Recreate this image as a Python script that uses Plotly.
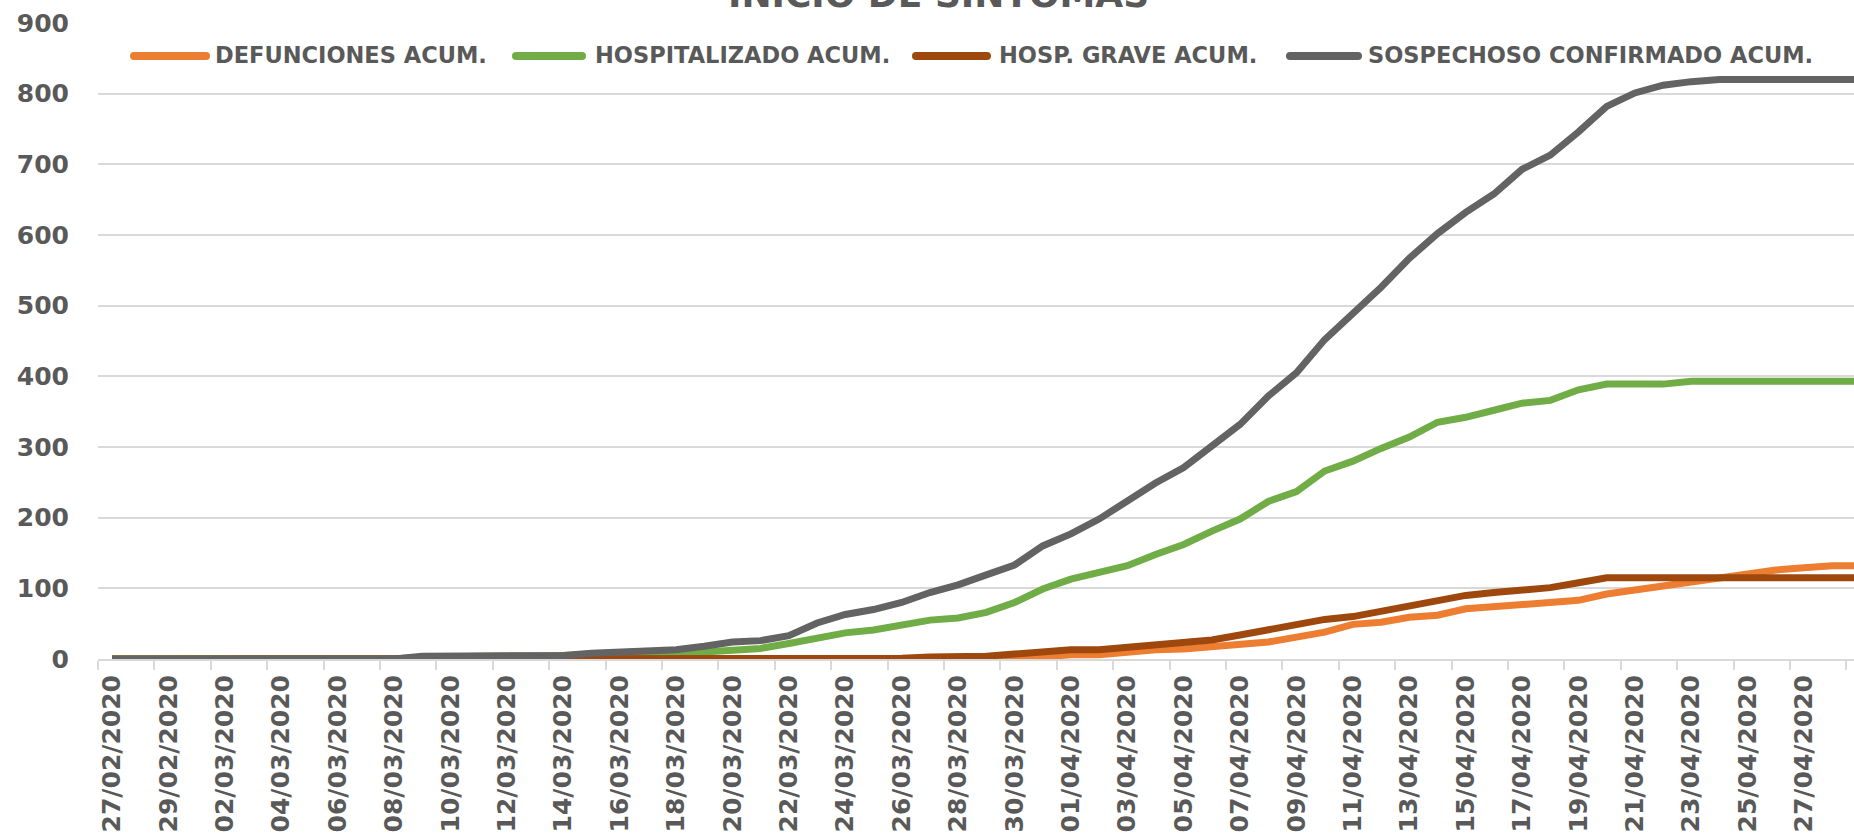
import pandas as pd
import plotly.graph_objects as go

# ---------------- data ----------------
dates = [d.strftime("%d/%m/%Y") for d in pd.date_range("2020-02-27", "2020-04-29", freq="D")]

defunciones = [0]*32 + [1, 3, 6, 6, 10, 13, 14, 17, 20, 24, 31, 38, 49, 52, 59, 62, 71, 74,
                        77, 80, 83, 92, 98, 104, 110, 116, 122, 126, 129, 132, 132]
hospitalizado = [0]*11 + [3, 3, 3, 3, 3, 5, 6, 6, 7, 8, 10, 13, 15, 22, 30, 37, 41, 48, 55, 58,
                          66, 80, 99, 113, 122, 132, 148, 162, 181, 198, 223, 237, 266, 280,
                          298, 314, 335, 342, 352, 362, 366, 381, 389, 389, 389, 393, 393, 393,
                          393, 393, 393, 393]
hosp_grave = [0]*16 + [1]*13 + [3, 3, 4, 7, 10, 13, 13, 16, 20, 23, 27, 34, 41, 48, 56, 60, 67,
                                74, 82, 90, 94, 97, 101, 108, 115, 115, 115, 115, 115, 115, 115,
                                115, 115, 115]
sospechoso = [0]*11 + [4, 4, 4, 4, 4, 5, 8, 10, 12, 13, 18, 24, 26, 33, 51, 63, 70, 80, 94, 105,
                       119, 133, 160, 177, 198, 223, 249, 271, 303, 332, 372, 405, 452, 488,
                       526, 567, 602, 632, 658, 693, 713, 746, 782, 801, 812, 817, 820, 820,
                       820, 820, 820, 820]

series_names = ["DEFUNCIONES ACUM.", "HOSPITALIZADO ACUM.", "HOSP. GRAVE ACUM.",
                "SOSPECHOSO CONFIRMADO ACUM."]
series_values = [defunciones, hospitalizado, hosp_grave, sospechoso]
series_colors = ["#ED7D31", "#70AD47", "#9E480E", "#636363"]

title_text = "INICIO DE SINTOMAS"

# ---------------- layout constants ----------------
W, H = 1854, 833
ML, MR, MT, MB = 98, 0, 23, 174
PW, PH = W - ML - MR, H - MT - MB
TXT = "#595959"
GRID = "#D9D9D9"


def px_x(px):
    return (px - ML) / PW


def px_y(py):
    return (H - MB - py) / PH


n = len(dates)
idx = list(range(n))

fig = go.Figure()
for name, vals, col in zip(series_names, series_values, series_colors):
    fig.add_trace(go.Scatter(x=idx[:len(vals)], y=vals, mode="lines", name=name,
                             line=dict(color=col, width=7), showlegend=False,
                             hoverinfo="skip"))

# manual legend (line swatches + labels)
legend_items = [(130, 210, 215), (512, 586, 595), (912, 991, 999), (1286, 1362, 1368)]
for (x0, x1, tx), name, col in zip(legend_items, series_names, series_colors):
    fig.add_shape(type="line", xref="paper", yref="paper",
                  x0=px_x(x0 + 4), x1=px_x(x1 - 4), y0=px_y(56), y1=px_y(56),
                  line=dict(color=col, width=8))
    for cx in (x0 + 4, x1 - 4):
        fig.add_shape(type="circle", xref="paper", yref="paper",
                      x0=px_x(cx - 4), x1=px_x(cx + 4), y0=px_y(60), y1=px_y(52),
                      fillcolor=col, line=dict(width=0))
    fig.add_annotation(text=name, xref="paper", yref="paper", x=px_x(tx - 2), y=px_y(55),
                       xanchor="left", yanchor="middle", showarrow=False,
                       font=dict(family="DejaVu Sans", size=22.5, color=TXT, weight="bold"))

# title (cropped at top in the reference)
fig.add_annotation(text=title_text, xref="paper", yref="paper", x=px_x(938.5), y=px_y(17),
                   xanchor="center", yanchor="bottom", showarrow=False,
                   font=dict(family="DejaVu Sans", size=36, color=TXT, weight="bold"))

tickvals = idx[::2]
ticktext = dates[::2]

fig.update_layout(
    width=W, height=H,
    margin=dict(l=ML, r=MR, t=MT, b=MB, pad=0, autoexpand=False),
    paper_bgcolor="white", plot_bgcolor="white",
    xaxis=dict(
        range=[-0.5, -0.5 + PW / 28.2], showgrid=False, zeroline=False, automargin=False,
        showline=True, linecolor=GRID, linewidth=2,
        tickmode="array", tickvals=tickvals, ticktext=ticktext, ticks="",
        tickangle=-90, ticklabelstandoff=4,
        tickfont=dict(family="DejaVu Sans", size=25, color=TXT, weight="bold"),
        minor=dict(tickmode="array", tickvals=[v - 0.5 for v in idx[::2]] + [n - 0.5],
                   ticks="outside", ticklen=9, tickwidth=2, tickcolor=GRID, showgrid=False),
    ),
    yaxis=dict(
        range=[0, 900], dtick=100, tick0=0, showgrid=True, gridcolor=GRID, gridwidth=2,
        zeroline=False, showline=False, ticks="", ticklabelstandoff=28, automargin=False,
        tickfont=dict(family="DejaVu Sans", size=25, color=TXT, weight="bold"),
    ),
)

fig.write_html("out.html", config={"displayModeBar": False},
               post_script="document.body.style.margin='0';document.body.style.overflow='hidden';")
